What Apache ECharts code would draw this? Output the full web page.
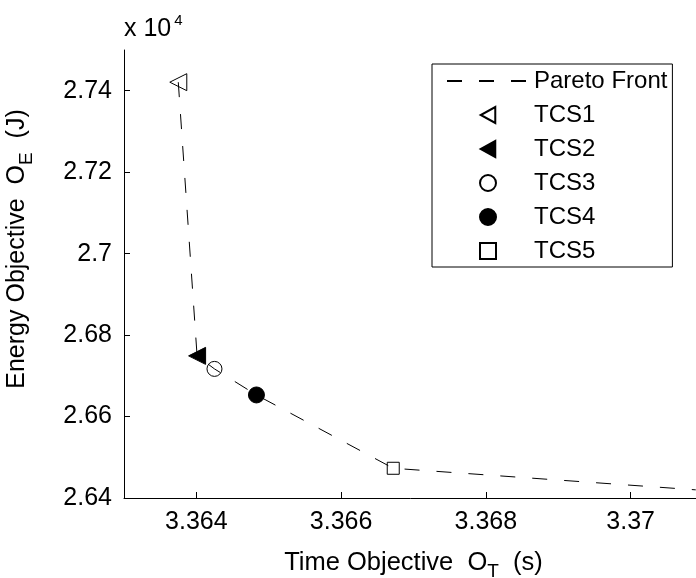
<!DOCTYPE html>
<html>
<head>
<meta charset="utf-8">
<script src="https://cdn.jsdelivr.net/npm/echarts@6/dist/echarts.min.js"></script>
<style>
  html, body { margin: 0; padding: 0; background: #fff; }
  #chart { width: 696px; height: 578px; }
</style>
</head>
<body>
<div id="chart"></div>
<script>
// Pareto front of time vs. energy objectives, with five trajectory candidates
const paretoTime   = [3.36375, 3.36401, 3.36425, 3.36483, 3.36672, 3.37090];
const paretoEnergy = [27421, 26749, 26717, 26653, 26473, 26420];

const tcsNames  = ['TCS1', 'TCS2', 'TCS3', 'TCS4', 'TCS5'];
const tcsTime   = [3.36375, 3.36401, 3.36425, 3.36483, 3.36672];
const tcsEnergy = [27421, 26749, 26717, 26653, 26473];

const xTicks = [3.364, 3.366, 3.368, 3.370];
const yTicks = [26400, 26600, 26800, 27000, 27200, 27400];

const FONT = 'Liberation Sans, Arial, Helvetica, sans-serif';

// left-pointing triangle and square outlines used for the legend keys
const LEFT_TRI = 'path://M10,0L10,11L0,5.5Z';
const SQUARE = 'path://M0,0L10,0L10,10L0,10Z';

// marker look per candidate: symbol, rotation, filled or hollow, size, legend key
const tcsMarks = [
  { symbol: 'triangle', rotate: 90, filled: false, size: 17, icon: LEFT_TRI },
  { symbol: 'triangle', rotate: 90, filled: true,  size: 17, icon: LEFT_TRI },
  { symbol: 'circle',   rotate: 0,  filled: false, size: 15, icon: 'circle' },
  { symbol: 'circle',   rotate: 0,  filled: true,  size: 16, icon: 'circle' },
  { symbol: 'rect',     rotate: 0,  filled: false, size: 12, icon: SQUARE }
];

const chart = echarts.init(document.getElementById('chart'), null, { renderer: 'canvas' });

// the front is a bare dashed line; its item colour is transparent so the
// legend key shows only the dashes
const series = [{
  name: 'Pareto Front',
  type: 'line',
  data: paretoTime.map((t, i) => [t, paretoEnergy[i]]),
  symbol: 'none',
  silent: true,
  animation: false,
  itemStyle: { color: 'rgba(0,0,0,0)', borderWidth: 0 },
  lineStyle: { color: '#000', width: 1, type: [15, 17] },
  z: 1
}];

tcsNames.forEach((name, i) => {
  const m = tcsMarks[i];
  series.push({
    name: name,
    type: 'scatter',
    data: [[tcsTime[i], tcsEnergy[i]]],
    symbol: m.symbol,
    symbolRotate: m.rotate,
    symbolSize: m.size,
    animation: false,
    itemStyle: {
      color: m.filled ? '#000' : 'rgba(0,0,0,0)',
      borderColor: '#000',
      borderWidth: 1,
      opacity: 1
    },
    z: 2
  });
});

const legendData = [{ name: 'Pareto Front' }].concat(
  tcsNames.map((name, i) => ({ name: name, icon: tcsMarks[i].icon }))
);

const subStyle = { fontSize: 19, fontFamily: FONT, color: '#000', padding: [18, 0, 0, 0] };

const option = {
  backgroundColor: '#fff',
  animation: false,
  textStyle: { fontFamily: FONT },
  grid: { left: 124, top: 50, right: -7, bottom: 80, containLabel: false, outerBoundsMode: 'none' },
  legend: {
    data: legendData,
    orient: 'vertical',
    left: 432,
    top: 64,
    padding: [5, 5, 4, 14],
    itemWidth: 82,
    itemHeight: 16,
    itemGap: 10,
    borderColor: '#000',
    borderWidth: 1,
    backgroundColor: '#fff',
    selectedMode: false,
    symbolKeepAspect: true,
    textStyle: { color: '#000', fontSize: 24, fontFamily: FONT, lineHeight: 24 }
  },
  xAxis: {
    type: 'value',
    min: 3.363,
    max: 3.371,
    name: 'Time Objective  O{sub|T}  (s)',
    nameLocation: 'middle',
    nameGap: 46,
    nameTextStyle: {
      color: '#000', fontSize: 25.5, fontFamily: FONT,
      rich: { sub: subStyle }
    },
    axisLine: { show: true, onZero: false, lineStyle: { color: '#000', width: 1 } },
    axisTick: { show: true, inside: true, length: 6, customValues: xTicks, lineStyle: { color: '#000' } },
    axisLabel: {
      customValues: xTicks,
      color: '#000', fontSize: 25, fontFamily: FONT, margin: 12,
      formatter: v => String(Number(v.toFixed(3)))
    },
    splitLine: { show: false }
  },
  yAxis: [{
    type: 'value',
    min: 26400,
    max: 27500,
    name: 'x 10{sup|4}',
    nameLocation: 'end',
    nameGap: 4,
    nameTextStyle: {
      color: '#000', fontSize: 25, fontFamily: FONT, align: 'left', verticalAlign: 'bottom',
      rich: {
        sup: { fontSize: 15, fontFamily: FONT, color: '#000', padding: [0, 0, 18, 3] }
      }
    },
    axisLine: { show: true, onZero: false, lineStyle: { color: '#000', width: 1 } },
    axisTick: { show: true, inside: true, length: 6, customValues: yTicks, lineStyle: { color: '#000' } },
    axisLabel: {
      customValues: yTicks,
      color: '#000', fontSize: 25, fontFamily: FONT, margin: 12,
      formatter: v => String(Number((v / 10000).toFixed(2)))
    },
    splitLine: { show: false }
  }, {
    // carries the vertical axis title so it keeps its rich subscript
    type: 'value',
    min: 26400,
    max: 27500,
    position: 'left',
    name: 'Energy Objective  O{sub|E}  (J)',
    nameLocation: 'middle',
    nameGap: 88,
    nameRotate: 90,
    nameTextStyle: {
      color: '#000', fontSize: 25, fontFamily: FONT,
      padding: [0, 0, 0, 50],
      rich: { sub: subStyle }
    },
    axisLine: { show: false },
    axisTick: { show: false },
    axisLabel: { show: false },
    splitLine: { show: false }
  }],
  series: series
};

chart.setOption(option);
</script>
</body>
</html>
